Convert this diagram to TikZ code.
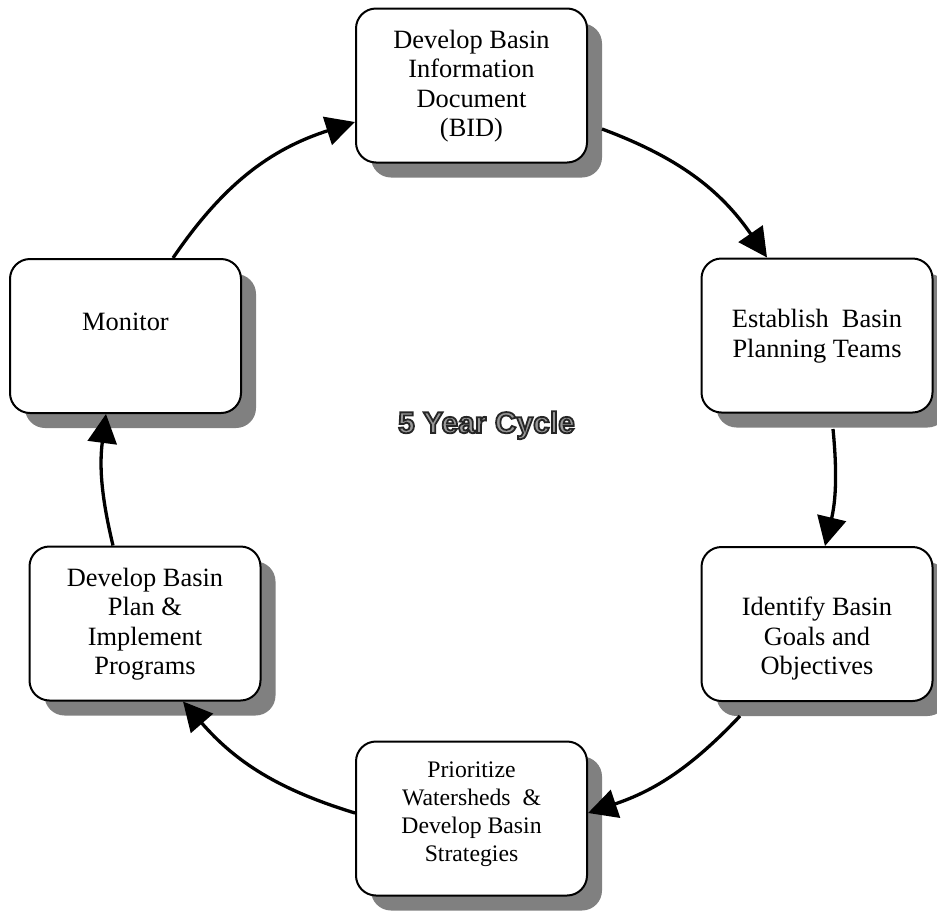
\documentclass[tikz,border=0pt]{standalone}
\usepackage{fontspec}
\setmainfont{Liberation Serif}
\newfontfamily\cyclefont{Liberation Sans}
\usetikzlibrary{arrows.meta,shadows}
\newcommand{\outlinetext}[1]{\textcolor{black!40}{\special{pdf:literal direct 0.15 0.15 0.15 RG 1.8 w 2 Tr}#1\special{pdf:literal direct 0 Tr}}}
\begin{document}
\begin{tikzpicture}[x=1pt,y=1pt,
  box/.style={draw=black, line width=2pt, rounded corners=20pt, fill=white,
    minimum width=231pt, minimum height=154pt, inner sep=0pt,
    general shadow={fill=black!50, shadow xshift=15pt, shadow yshift=-15pt}},
  lbl/.style={align=center, inner sep=0pt, font=\fontsize{26.4}{29.5}\selectfont},
  lblsmall/.style={align=center, inner sep=0pt, font=\fontsize{23.7}{28}\selectfont},
  flow/.style={line width=3.3pt, -{Triangle[length=29pt,width=29pt]}},
]
\useasboundingbox (0,0) rectangle (937,-911);

% boxes
\node[box] (top) at (471.5,-85.5) {};
\node[box] (est) at (817,-335.5) {};
\node[box] (ide) at (817,-624) {};
\node[box] (pri) at (471.5,-818.5) {};
\node[box] (dev) at (145,-623.5) {};
\node[box] (mon) at (125.5,-336) {};

% texts
\node[lbl] (topt) at (471.5,-86) {Develop Basin\\Information\\Document\\(BID)};
\node[lbl] (estt) at (817,-336) {Establish~ Basin\\Planning Teams};
\node[lbl] (idet) at (817,-639) {Identify Basin\\Goals and\\Objectives};
\node[lblsmall] (prit) at (471.5,-814.5) {Prioritize\\Watersheds~ \&\\Develop Basin\\Strategies};
\node[lbl] (devt) at (145,-624) {Develop Basin\\Plan \&\\Implement\\Programs};
\node[lbl] (mont) at (125.5,-322) {Monitor};

% center title
\node[anchor=base, inner sep=0pt, font=\cyclefont\bfseries\fontsize{30}{30}\selectfont] (cyc) at (486.5,-433)
  {\outlinetext{5 Year Cycle}};

% connectors
\draw[flow] ([xshift=47.5pt]mon.north) to[bend left=19] ([yshift=-36.5pt]top.west);
\draw[flow] ([shift={(14pt,-43.5pt)}]top.east) to[bend left=17.5] ([xshift=-50pt]est.north);
\draw[flow] ([shift={(16pt,-15.5pt)}]est.south) to[bend left=9.5] ([xshift=8pt]ide.north);
\draw[flow] ([shift={(-77pt,-14pt)}]ide.south) to[bend left=14] ([yshift=5.5pt]pri.east);
\draw[flow] ([yshift=5.5pt]pri.west) to[bend left=16] ([xshift=38pt]dev.south);
\draw[flow] ([xshift=-32pt]dev.north) to[bend left=10.5] ([xshift=-19.5pt]mon.south);
\end{tikzpicture}
\end{document}
